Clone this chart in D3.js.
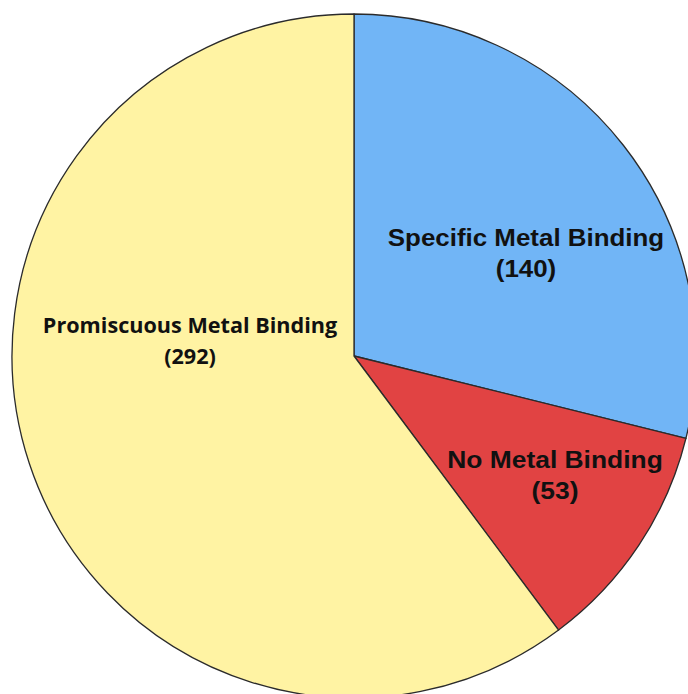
<!DOCTYPE html>
<html>
<head>
<meta charset="utf-8">
<script src="https://cdn.jsdelivr.net/npm/d3@7"></script>
<style>
  html, body { margin: 0; padding: 0; background: #fff; }
  svg { display: block; }
</style>
</head>
<body>
<svg id="chart" width="688" height="694"></svg>
<script>
// Metal-binding classes and their counts
const categories = ["Specific Metal Binding", "No Metal Binding", "Promiscuous Metal Binding"];
const counts = [140, 53, 292];
const colors = ["#71B5F6", "#E14343", "#FFF3A3"];

// Label typography per slice
const labelFonts = [
  "bold 24px 'Liberation Sans', Arial, sans-serif",
  "bold 24px 'Liberation Sans', Arial, sans-serif",
  "bold 21px 'Open Sans', Lato, sans-serif"
];
const labelStretch = [1.08, 1.1, 1.03];
const labelPos = [
  { x: 526, y: 246 },
  { x: 555, y: 468 },
  { x: 190, y: 333 }
];
const lineGap = 31;

const cx = 354, cy = 356, r = 342;

const svg = d3.select("#chart");
const g = svg.append("g").attr("transform", `translate(${cx},${cy})`);

const data = categories.map((c, i) => ({
  name: c, value: counts[i], color: colors[i],
  font: labelFonts[i], pos: labelPos[i], sx: labelStretch[i]
}));

const pie = d3.pie().value(d => d.value).sort(null);
const arc = d3.arc().innerRadius(0).outerRadius(r);

g.selectAll("path")
  .data(pie(data))
  .join("path")
  .attr("d", arc)
  .attr("fill", d => d.data.color)
  .attr("stroke", "#2b2b2b")
  .attr("stroke-width", 1.3)
  .attr("stroke-linejoin", "round");

const labels = svg.selectAll("g.lbl")
  .data(data)
  .join("g")
  .attr("class", "lbl")
  .attr("transform", d => `translate(${d.pos.x},${d.pos.y}) scale(${d.sx},1)`);

labels.append("text")
  .attr("x", 0)
  .attr("y", 0)
  .attr("text-anchor", "middle")
  .style("font", d => d.font)
  .attr("fill", "#111")
  .text(d => d.name);

labels.append("text")
  .attr("x", 0)
  .attr("y", lineGap)
  .attr("text-anchor", "middle")
  .style("font", d => d.font)
  .attr("fill", "#111")
  .text(d => `(${d.value})`);
</script>
</body>
</html>
